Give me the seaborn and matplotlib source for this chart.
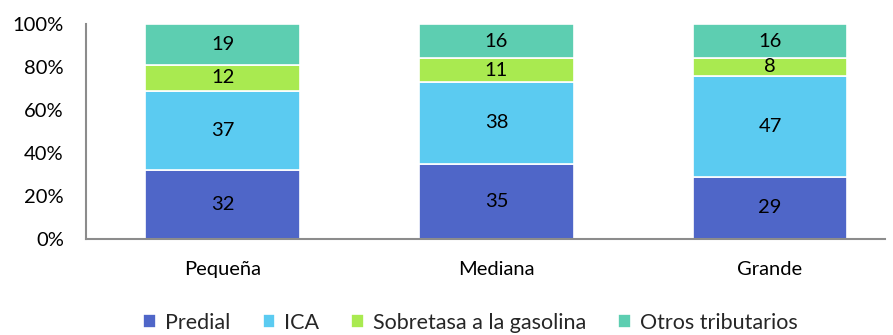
import numpy as np
import pandas as pd
import seaborn as sns
import matplotlib
matplotlib.use("Agg")
import matplotlib.pyplot as plt
from matplotlib.ticker import FuncFormatter

# data (percent of total per municipality size)
sizes = ["Pequeña", "Mediana", "Grande"]
series = ["Predial", "ICA", "Sobretasa a la gasolina", "Otros tributarios"]
predial = [32, 35, 29]
ica = [37, 38, 47]
sobretasa = [12, 11, 8]
otros = [19, 16, 16]
colors = ["#4F66C8", "#5BCBF1", "#A9EA50", "#5DCEB1"]

sns.set_theme(style="white")
plt.rcParams["font.family"] = ["Lato", "DejaVu Sans"]

fig = plt.figure(figsize=(8.93, 3.35), dpi=100)
ax = fig.add_axes([0.0963, 0.2866, 0.8947, 0.6418])

values = [predial, ica, sobretasa, otros]
bottom = np.zeros(len(sizes))
for name, vals, col in zip(series, values, colors):
    df = pd.DataFrame({"size": sizes, "val": vals})
    sns.barplot(data=df, x="size", y="val", color=col, bottom=bottom,
                width=0.566, edgecolor="white", linewidth=1.2,
                label=name, ax=ax, errorbar=None, saturation=1)
    for i, v in enumerate(vals):
        ax.text(i, bottom[i] + v / 2, str(v), ha="center", va="center",
                fontsize=14.5, color="black")
    bottom = bottom + np.array(vals)

handles, labels = ax.get_legend_handles_labels()
if ax.get_legend() is not None:
    ax.get_legend().remove()

ax.set_ylim(0, 100)
ax.set_xlim(-0.5, 2.42)
ax.set_yticks(np.arange(0, 101, 20))
ax.yaxis.set_major_formatter(FuncFormatter(lambda v, p: f"{int(v)}%"))
ax.set_xlabel("")
ax.set_ylabel("")
ax.tick_params(axis="both", labelsize=14.5, length=0, colors="black")
ax.tick_params(axis="x", pad=16)
ax.tick_params(axis="y", pad=16)
for s in ["top", "right"]:
    ax.spines[s].set_visible(False)
for s in ["left", "bottom"]:
    ax.spines[s].set_color("#8c8c8c")
    ax.spines[s].set_linewidth(1.5)

fig.legend(handles, labels, loc="center", bbox_to_anchor=(0.527, 0.037),
           ncol=4, frameon=False, fontsize=15.5, handlelength=0.6,
           handleheight=0.6, handletextpad=0.4, columnspacing=1.5)

fig.savefig("out.png", dpi=100)
